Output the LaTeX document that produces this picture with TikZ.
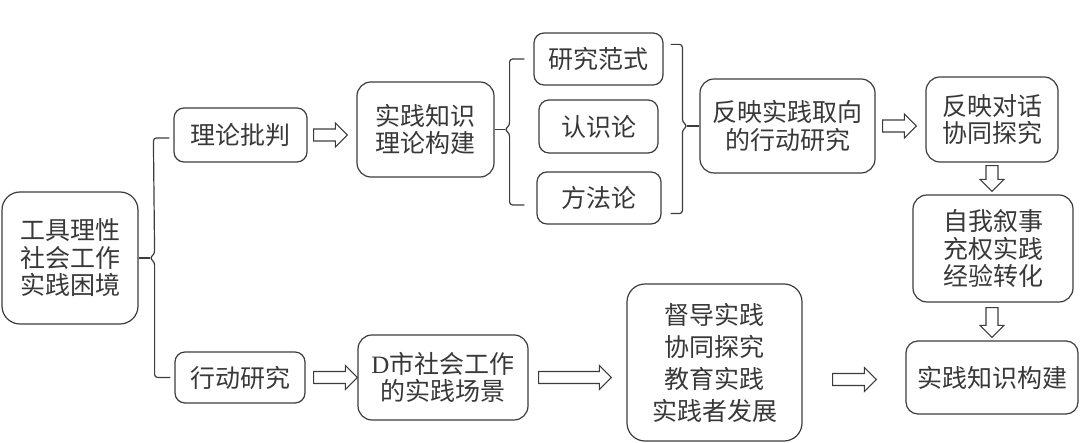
\documentclass[tikz,border=0pt]{standalone}
\usepackage{fontspec}
\setmainfont{Noto Sans CJK SC}
\newfontfamily\latser{Liberation Serif}
\usetikzlibrary{calc}
\definecolor{linec}{HTML}{3C3C3C}
\definecolor{textc}{HTML}{383838}
\tikzset{
  box/.style={draw=linec, line width=1.2pt, rounded corners=10pt, align=center,
    inner sep=0pt, text=textc, font=\fontsize{25}{27.5}\selectfont},
  conn/.style={draw=linec, line width=1.2pt, rounded corners=3pt},
  harrow/.style={draw=linec, line width=1.1pt, fill=white, line join=miter},
}
\newcommand\hollowR[2]{%
  \draw[harrow] ($(#1)+(0,6)$) -- ($(#2)+(-12,6)$) -- ($(#2)+(-12,12)$) -- (#2)
    -- ($(#2)+(-12,-12)$) -- ($(#2)+(-12,-6)$) -- ($(#1)+(0,-6)$) -- cycle;}
\newcommand\hollowD[2]{%
  \draw[harrow] ($(#1)+(-6,0)$) -- ($(#2)+(-6,12)$) -- ($(#2)+(-12,12)$) -- (#2)
    -- ($(#2)+(12,12)$) -- ($(#2)+(6,12)$) -- ($(#1)+(6,0)$) -- cycle;}
\begin{document}
\begin{tikzpicture}[x=1pt,y=1pt]
\useasboundingbox (0,0) rectangle (1080,443);
% nodes
\node[box, minimum width=136pt, minimum height=132pt, rounded corners=18pt] (A) at (70,185) {工具理性\\社会工作\\实践困境};
\node[box, minimum width=133pt, minimum height=54pt] (B1) at (240.5,308) {理论批判};
\node[box, minimum width=130pt, minimum height=51pt] (B2) at (240,65.5) {行动研究};
\node[box, minimum width=137pt, minimum height=95pt, rounded corners=14pt] (C) at (425.5,313.5) {实践知识\\理论构建};
\node[box, minimum width=129pt, minimum height=52pt] (D) at (598.5,384) {研究范式};
\node[box, minimum width=119pt, minimum height=53pt] (E) at (598.5,316.5) {认识论};
\node[box, minimum width=124pt, minimum height=52pt] (F) at (599,245) {方法论};
\node[box, minimum width=175pt, minimum height=94pt, rounded corners=14pt] (G) at (787.5,317) {反映实践取向\\的行动研究};
\node[box, minimum width=132pt, minimum height=85pt, rounded corners=14pt] (H) at (992,323.5) {反映对话\\协同探究};
\node[box, minimum width=160pt, minimum height=107pt, rounded corners=14pt] (I) at (993,194.5) {自我叙事\\充权实践\\经验转化};
\node[box, minimum width=172pt, minimum height=73pt, rounded corners=12pt] (J) at (992,65.5) {实践知识构建};
\node[box, minimum width=170pt, minimum height=85pt, rounded corners=14pt] (K) at (443,65.5) {{\latser D}市社会工作\\的实践场景};
\node[box, minimum width=175pt, minimum height=157pt, rounded corners=18pt, font=\fontsize{25}{32}\selectfont] (L) at (714.5,80.5) {督导实践\\协同探究\\教育实践\\实践者发展};
% brace 1
\coordinate (b1m) at ($(A.east)+(11,0)$);
\coordinate (b1t) at ($(B1.west)+(-4,-3)$);
\coordinate (b1b) at ($(B2.west)+(-4,0)$);
\draw[conn] (b1t) -- ++(-16,0) -- ($(b1m)+(5,4)$) -- (b1m) -- ($(b1m)+(5,-4)$) -- ($(b1m |- b1b)+(5,0)$) -- (b1b);
\draw[conn] (A.east) -- (b1m);
% brace 2
\coordinate (b2m) at ($(C.east)+(10,0)$);
\coordinate (b2t) at ($(D.west)+(-9,0)$);
\coordinate (b2b) at ($(F.west)+(-12,-7)$);
\draw[conn] (b2t) -- ($(b2m |- b2t)+(5,0)$) -- ($(b2m)+(5,4)$) -- (b2m) -- ($(b2m)+(5,-4)$) -- ($(b2m |- b2b)+(5,0)$) -- (b2b);
\draw[conn] (C.east) -- (b2m);
% brace 3
\coordinate (b3m) at ($(G.west)+(-12,0)$);
\coordinate (b3t) at ($(D.north east)+(7,-12)$);
\coordinate (b3b) at ($(F.south east)+(9,11)$);
\draw[conn] (b3t) -- ($(b3m |- b3t)+(-5,0)$) -- ($(b3m)+(-5,4)$) -- (b3m) -- ($(b3m)+(-5,-4)$) -- ($(b3m |- b3b)+(-5,0)$) -- (b3b);
\draw[conn] (b3m) -- (G.west);
% hollow arrows
\coordinate (a1s) at ($(B1.east)+(6,0)$);
\coordinate (a1e) at ($(C.west |- a1s)+(-9,0)$);
\hollowR{a1s}{a1e}
\coordinate (a2s) at ($(G.east)+(7,0)$);
\coordinate (a2e) at ($(H.west |- a2s)+(-9,0)$);
\hollowR{a2s}{a2e}
\coordinate (a3s) at ($(H.south)+(0,-3)$);
\coordinate (a3e) at ($(I.north -| H.south)+(0,3)$);
\hollowD{a3s}{a3e}
\coordinate (a4s) at ($(I.south -| J.north)+(0,-5)$);
\coordinate (a4e) at ($(J.north)+(0,3)$);
\hollowD{a4s}{a4e}
\coordinate (a5s) at ($(B2.east)+(8,0)$);
\coordinate (a5e) at (K.west |- a5s);
\hollowR{a5s}{a5e}
\coordinate (a6s) at ($(K.east)+(10,0)$);
\coordinate (a6e) at ($(L.west |- a6s)+(-15,0)$);
\hollowR{a6s}{a6e}
\coordinate (a7s) at ($(L.east |- J.west)+(30,-2)$);
\coordinate (a7e) at ($(J.west)+(-29,-2)$);
\hollowR{a7s}{a7e}
\end{tikzpicture}
\end{document}
